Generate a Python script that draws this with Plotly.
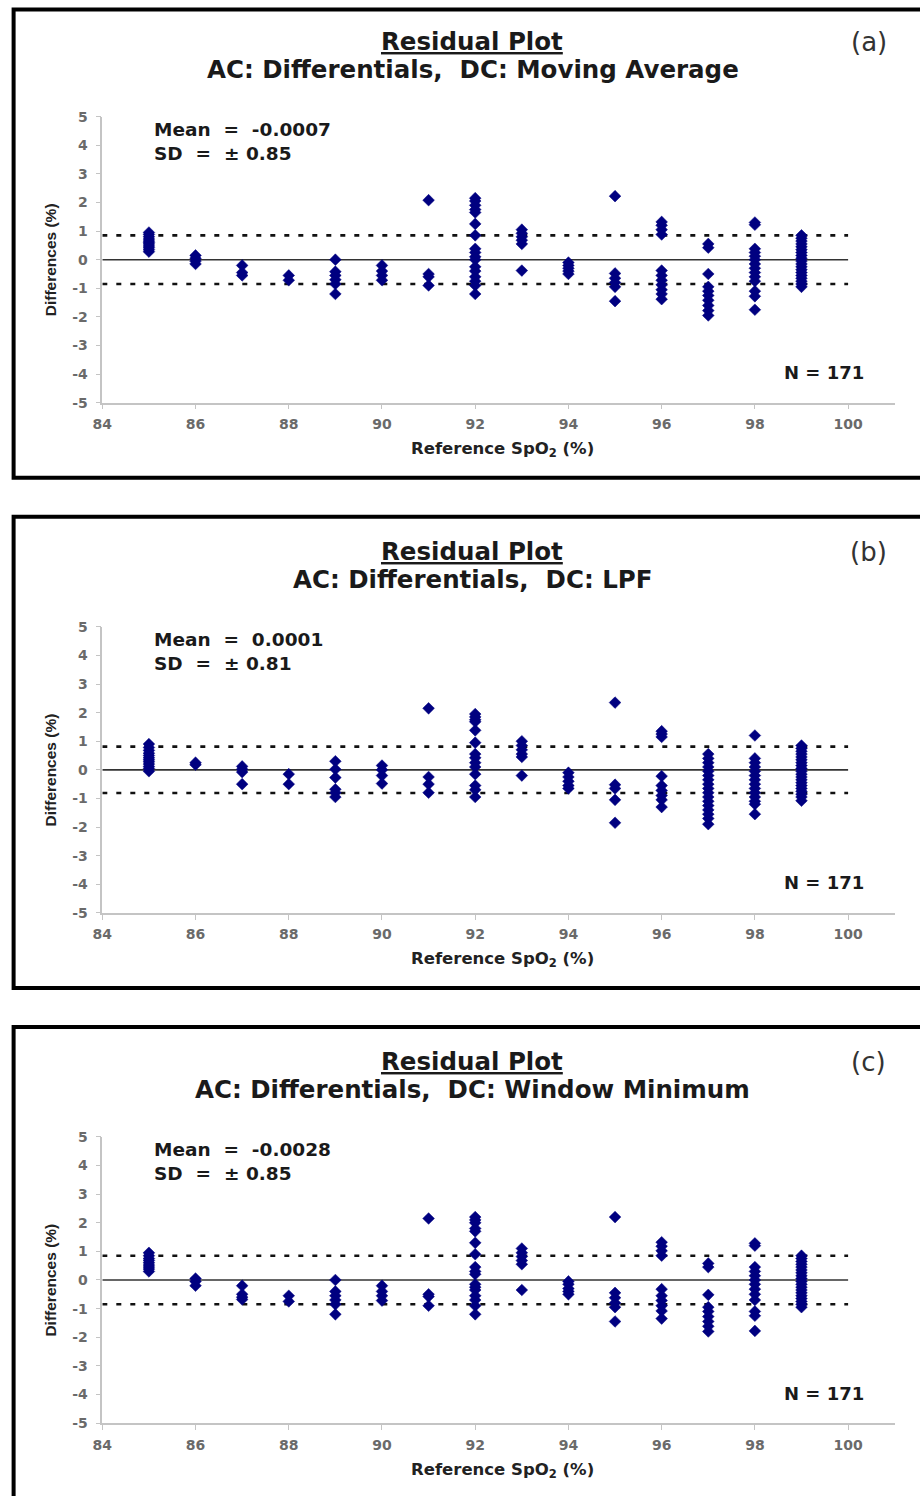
import plotly.graph_objects as go

# ---------------- data ----------------
spo2_ticks = [84, 86, 88, 90, 92, 94, 96, 98, 100]
diff_ticks = [-5, -4, -3, -2, -1, 0, 1, 2, 3, 4, 5]

panel_labels = ["(a)", "(b)", "(c)"]
panel_subtitles = ["AC: Differentials,  DC: Moving Average",
                   "AC: Differentials,  DC: LPF",
                   "AC: Differentials,  DC: Window Minimum"]
panel_means = [-0.0007, 0.0001, -0.0028]
panel_sds = [0.85, 0.81, 0.85]
panel_n = [171, 171, 171]

# (a) AC: Differentials, DC: Moving Average
a_spo2 = ([85]*11 + [86]*4 + [87]*3 + [88]*2 + [89]*6 + [90]*4 + [91]*4 + [92]*17
          + [93]*6 + [94]*5 + [95]*6 + [96]*11 + [97]*10 + [98]*14 + [99]*19)
a_diff = [0.95, 0.88, 0.8, 0.72, 0.65, 0.6, 0.55, 0.48, 0.42, 0.35, 0.28,
          0.15, 0.05, -0.05, -0.15,
          -0.2, -0.45, -0.55,
          -0.55, -0.72,
          0.0, -0.42, -0.55, -0.7, -0.85, -1.2,
          -0.2, -0.4, -0.55, -0.72,
          2.08, -0.5, -0.6, -0.9,
          2.15, 2.05, 1.9, 1.75, 1.65, 1.25, 0.85, 0.38, 0.25, 0.1, 0.0, -0.25, -0.4, -0.6, -0.75, -0.9, -1.2,
          1.05, 0.92, 0.8, 0.68, 0.55, -0.38,
          -0.1, -0.2, -0.3, -0.4, -0.5,
          2.22, -0.48, -0.65, -0.8, -0.95, -1.45,
          1.32, 1.2, 1.05, 0.88, -0.38, -0.55, -0.72, -0.88, -1.05, -1.2, -1.38,
          0.55, 0.42, -0.5, -0.95, -1.1, -1.25, -1.42, -1.6, -1.78, -1.95,
          1.3, 1.22, 0.38, 0.25, 0.12, 0.0, -0.15, -0.3, -0.45, -0.6, -0.75, -1.1, -1.28, -1.75,
          0.85, 0.75, 0.65, 0.55, 0.45, 0.35, 0.25, 0.15, 0.05, -0.05, -0.15, -0.25, -0.35,
          -0.45, -0.55, -0.65, -0.75, -0.85, -0.95]

# (b) AC: Differentials, DC: LPF
b_spo2 = ([85]*12 + [86]*2 + [87]*4 + [88]*2 + [89]*6 + [90]*4 + [91]*4 + [92]*14
          + [93]*6 + [94]*5 + [95]*5 + [96]*9 + [97]*17 + [98]*14 + [99]*20)
b_diff = [0.9, 0.78, 0.68, 0.58, 0.5, 0.42, 0.35, 0.28, 0.2, 0.12, 0.05, -0.05,
          0.25, 0.18,
          0.12, 0.02, -0.08, -0.5,
          -0.15, -0.5,
          0.3, 0.02, -0.27, -0.68, -0.8, -0.95,
          0.15, 0.0, -0.2, -0.48,
          2.15, -0.25, -0.5, -0.8,
          1.95, 1.85, 1.75, 1.68, 1.38, 0.95, 0.55, 0.42, 0.25, 0.1, -0.15, -0.55, -0.7, -0.95,
          1.0, 0.85, 0.7, 0.55, 0.45, -0.2,
          -0.1, -0.25, -0.4, -0.55, -0.65,
          2.35, -0.52, -0.65, -1.05, -1.85,
          1.35, 1.25, 1.15, -0.22, -0.55, -0.72, -0.9, -1.05, -1.3,
          0.55, 0.4, 0.25, 0.1, -0.05, -0.2, -0.35, -0.5, -0.65, -0.8, -0.95, -1.1, -1.25,
          -1.4, -1.55, -1.7, -1.9,
          1.2, 0.4, 0.25, 0.1, -0.05, -0.2, -0.35, -0.5, -0.65, -0.8, -0.95, -1.1, -1.2, -1.55,
          0.85, 0.75, 0.65, 0.55, 0.45, 0.35, 0.25, 0.15, 0.05, -0.05, -0.15, -0.25, -0.35,
          -0.45, -0.55, -0.65, -0.75, -0.85, -0.95, -1.08]

# (c) AC: Differentials, DC: Window Minimum
c_spo2 = ([85]*9 + [86]*3 + [87]*4 + [88]*2 + [89]*6 + [90]*4 + [91]*4 + [92]*17
          + [93]*6 + [94]*5 + [95]*6 + [96]*10 + [97]*9 + [98]*13 + [99]*19)
c_diff = [0.95, 0.85, 0.75, 0.68, 0.6, 0.52, 0.45, 0.38, 0.3,
          0.05, -0.05, -0.2,
          -0.2, -0.5, -0.6, -0.68,
          -0.55, -0.75,
          0.0, -0.4, -0.55, -0.7, -0.85, -1.2,
          -0.2, -0.4, -0.55, -0.72,
          2.15, -0.5, -0.58, -0.9,
          2.2, 2.1, 2.0, 1.8, 1.7, 1.3, 0.9, 0.45, 0.3, 0.2, -0.15, -0.25, -0.35, -0.55, -0.7, -0.9, -1.2,
          1.1, 0.95, 0.82, 0.68, 0.55, -0.35,
          -0.05, -0.15, -0.3, -0.4, -0.5,
          2.2, -0.45, -0.62, -0.8, -0.95, -1.45,
          1.32, 1.18, 1.02, 0.85, -0.32, -0.55, -0.72, -0.9, -1.08, -1.35,
          0.58, 0.45, -0.52, -0.95, -1.1, -1.28, -1.45, -1.62, -1.8,
          1.28, 1.2, 0.45, 0.3, 0.15, 0.0, -0.15, -0.32, -0.5, -0.7, -1.1, -1.25, -1.78,
          0.85, 0.75, 0.65, 0.55, 0.45, 0.35, 0.25, 0.15, 0.05, -0.05, -0.15, -0.25, -0.35,
          -0.45, -0.55, -0.65, -0.75, -0.85, -0.95]

panel_x = [a_spo2, b_spo2, c_spo2]
panel_y = [a_diff, b_diff, c_diff]

# ---------------- layout helpers ----------------
W, H = 920, 1496
# the photographed page appears slightly shrunk and shifted; target positions
# are mapped back into page pixels with this model
SHOT_SCALE, SHOT_SHIFT = 0.989, 8.4
PANEL_STEP = 510
PLOT_TOP, PLOT_BOT = 117, 403
PLOT_L, PLOT_R = 100.7, 893
X_RANGE = [84, 101]
LINE_X = [84, 100]
FONT = "DejaVu Sans"
NAVY = "#000080"


def page(v):
    return (v - SHOT_SHIFT) / SHOT_SCALE


def px(x):
    return page(x) / W


def py(y):
    return 1 - page(y) / H


fig = go.Figure()
layout = dict(
    width=W, height=H, margin=dict(l=0, r=0, t=0, b=0),
    paper_bgcolor="white", plot_bgcolor="white", showlegend=False,
    annotations=[], shapes=[],
)

nbsp = "\u00a0"
for i in range(3):
    off = i * PANEL_STEP
    sfx = "" if i == 0 else str(i + 1)
    xa, ya = "x" + sfx, "y" + sfx
    m, sd = panel_means[i], panel_sds[i]

    # reference lines: mean (solid) and +/- SD (dashed)
    fig.add_trace(go.Scatter(x=LINE_X, y=[m, m], mode="lines", xaxis=xa, yaxis=ya,
                             line=dict(color="#333333", width=1.6), hoverinfo="skip"))
    for s in (sd, -sd):
        fig.add_trace(go.Scatter(x=LINE_X, y=[s, s], mode="lines", xaxis=xa, yaxis=ya,
                                 line=dict(color="#111111", width=2.6, dash="5px,9px"),
                                 hoverinfo="skip"))
    fig.add_trace(go.Scatter(x=panel_x[i], y=panel_y[i], mode="markers", xaxis=xa, yaxis=ya,
                             marker=dict(symbol="diamond", size=9, color=NAVY,
                                         line=dict(color=NAVY, width=0.5))))

    axis_common = dict(showline=True, linecolor="#c4c4c4", linewidth=1.5, ticks="outside",
                       ticklen=5, tickcolor="#c4c4c4", tickwidth=1.2, showgrid=False,
                       zeroline=False, tickfont=dict(family=FONT, size=14, color="#6a6a6a",
                                                     weight="bold"))
    layout["xaxis" + sfx] = dict(axis_common, range=X_RANGE, tickvals=spo2_ticks,
                                 ticktext=[str(v) for v in spo2_ticks],
                                 domain=[px(PLOT_L), px(PLOT_R)], anchor=ya,
                                 ticklabelstandoff=3)
    layout["yaxis" + sfx] = dict(axis_common, range=[-5, 5], tickvals=diff_ticks,
                                 ticktext=[str(v) for v in diff_ticks],
                                 domain=[py(PLOT_BOT + off), py(PLOT_TOP + off)], anchor=xa,
                                 ticklabelstandoff=5)

    # panel frame (top edge of the first frame kept just inside the page)
    top_edge = 7 + off if i > 0 else SHOT_SHIFT + 1.5
    layout["shapes"].append(dict(type="rect", xref="paper", yref="paper",
                                 x0=px(12), x1=px(945), y0=py(478 + off), y1=py(top_edge),
                                 line=dict(color="black", width=4)))

    ann = layout["annotations"]
    ann.append(dict(text="<u>Residual Plot</u>", x=px(470), y=py(42 + off), xref="paper",
                    yref="paper", showarrow=False, xanchor="center", yanchor="middle",
                    font=dict(family=FONT, size=24.5, color="#1a1a1a", weight="bold")))
    ann.append(dict(text=panel_subtitles[i], x=px(471), y=py(70 + off), xref="paper",
                    yref="paper", showarrow=False, xanchor="center", yanchor="middle",
                    font=dict(family=FONT, size=24.5, color="#1a1a1a", weight="bold")))
    ann.append(dict(text=panel_labels[i], x=px(867), y=py(42 + off), xref="paper",
                    yref="paper", showarrow=False, xanchor="center", yanchor="middle",
                    font=dict(family=FONT, size=26, color="#333333")))
    mean_txt = f"Mean{nbsp*2}={nbsp*2}{m:.4f}"
    sd_txt = f"SD{nbsp*2}={nbsp*2}±{nbsp}{sd:.2f}"
    ann.append(dict(text=mean_txt, x=px(150), y=py(130 + off), xref="paper", yref="paper",
                    showarrow=False, xanchor="left", yanchor="middle",
                    font=dict(family=FONT, size=18.5, color="#1a1a1a", weight="bold")))
    ann.append(dict(text=sd_txt, x=px(150), y=py(154 + off), xref="paper", yref="paper",
                    showarrow=False, xanchor="left", yanchor="middle",
                    font=dict(family=FONT, size=18.5, color="#1a1a1a", weight="bold")))
    ann.append(dict(text=f"N = {panel_n[i]}", x=px(864), y=py(373 + off), xref="paper",
                    yref="paper", showarrow=False, xanchor="right", yanchor="middle",
                    font=dict(family=FONT, size=18, color="#1a1a1a", weight="bold")))
    ann.append(dict(text="Reference SpO<sub>2</sub> (%)", x=px(501), y=py(450 + off),
                    xref="paper", yref="paper", showarrow=False, xanchor="center",
                    yanchor="middle",
                    font=dict(family=FONT, size=16.5, color="#222222", weight="bold")))
    ann.append(dict(text="Differences (%)", x=px(49), y=py(260 + off), xref="paper",
                    yref="paper", showarrow=False, xanchor="center", yanchor="middle",
                    textangle=-90,
                    font=dict(family="Liberation Sans", size=15.5, color="#222222",
                              weight="bold")))

fig.update_layout(**layout)
# remove the default page margin so the figure fills the window exactly
fig.write_html("out.html", config={"displayModeBar": False},
               post_script="document.body.style.margin='0';"
                           "document.documentElement.style.overflow='hidden';")
